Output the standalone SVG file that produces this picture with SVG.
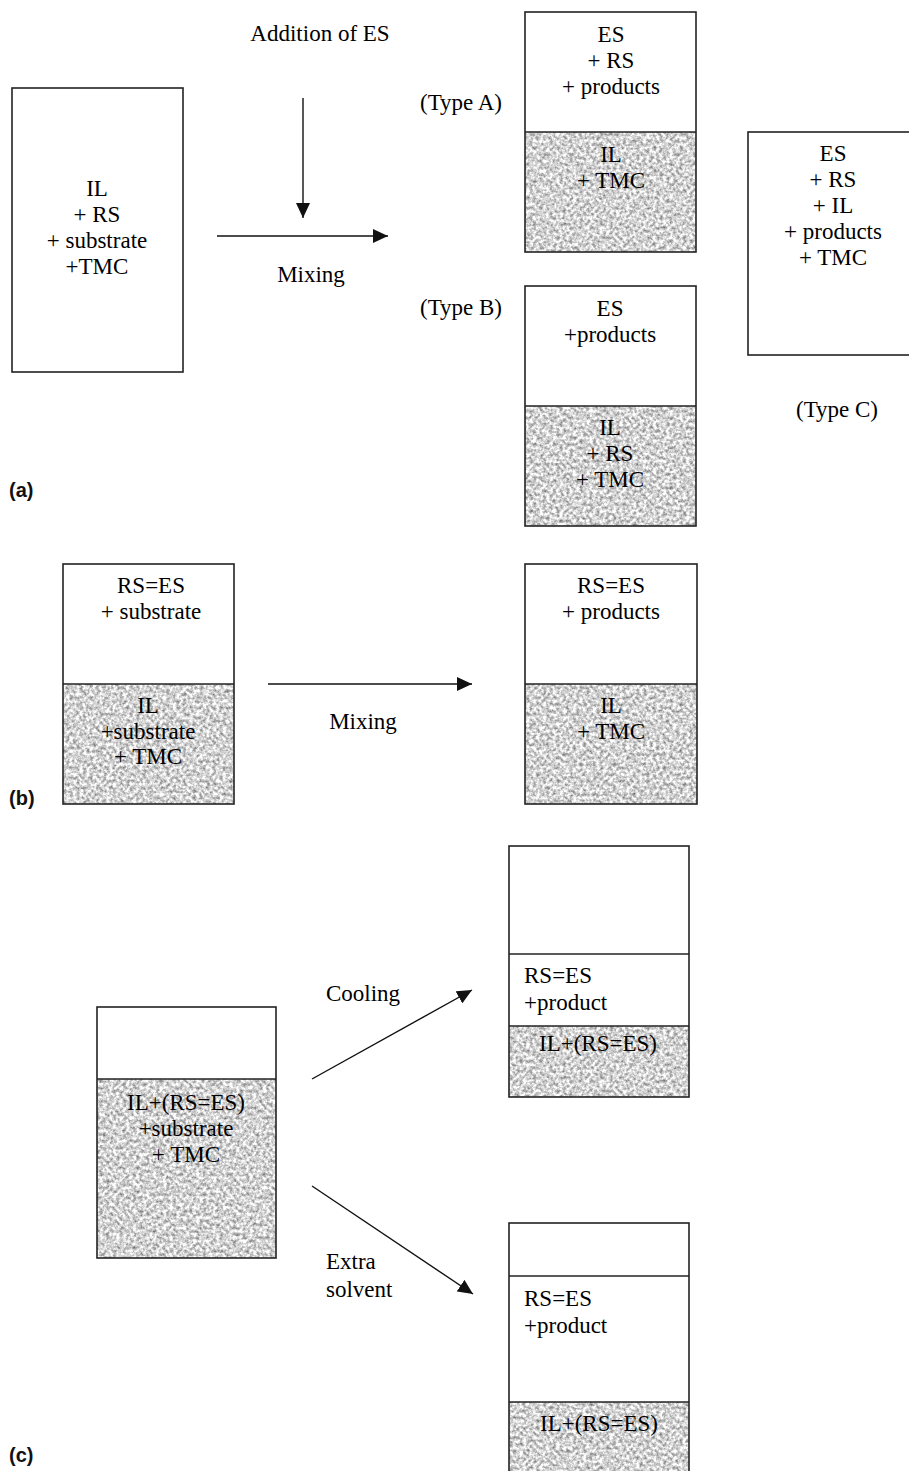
<svg xmlns="http://www.w3.org/2000/svg" width="909" height="1471" viewBox="0 0 909 1471">
<style>
  .box { fill: none; stroke: #222; stroke-width: 1.6; }
  .div { stroke: #222; stroke-width: 1.6; }
  .t { font-family: "Liberation Serif", "Times New Roman", serif; font-size: 23px; fill: #000; }
  .c { text-anchor: middle; }
  .lab { font-family: "Liberation Sans", Arial, sans-serif; font-size: 20px; font-weight: bold; fill: #111; }
  .arr { stroke: #111; stroke-width: 1.4; fill: none; marker-end: url(#ah); }
</style>
<defs>
  <marker id="ah" markerUnits="userSpaceOnUse" markerWidth="16" markerHeight="14" refX="15" refY="7" orient="auto">
    <path d="M0,0 L15,7 L0,14 Z" fill="#111"/>
  </marker>
  <filter id="grain" x="0" y="0" width="1" height="1" color-interpolation-filters="sRGB">
    <feTurbulence type="fractalNoise" baseFrequency="0.3" numOctaves="3" seed="7" result="n"/>
    <feColorMatrix in="n" type="matrix" values="0.95 0 0 0 0.35  0.95 0 0 0 0.35  0.95 0 0 0 0.35  0 0 0 0 1"/>
  </filter>
</defs>
<rect width="909" height="1471" fill="#fff"/>

<!-- (a) -->
<g id="a-start">
  <rect class="box" x="12" y="88" width="171" height="284"/>
  <text class="t c" x="97" y="196">IL</text>
  <text class="t c" x="97" y="222">+ RS</text>
  <text class="t c" x="97" y="248">+ substrate</text>
  <text class="t c" x="97" y="274">+TMC</text>
</g>
<g id="a-typeA">
  <rect x="525" y="132" width="171" height="120" fill="#ccc" filter="url(#grain)"/>
  <rect class="box" x="525" y="12" width="171" height="240"/>
  <line class="div" x1="525" y1="132" x2="696" y2="132"/>
  <text class="t c" x="611" y="42">ES</text>
  <text class="t c" x="611" y="68">+ RS</text>
  <text class="t c" x="611" y="94">+ products</text>
  <text class="t c" x="611" y="162">IL</text>
  <text class="t c" x="611" y="188">+ TMC</text>
  <text class="t c" x="461" y="110">(Type A)</text>
</g>
<g id="a-typeB">
  <rect x="525" y="406" width="171" height="120" fill="#ccc" filter="url(#grain)"/>
  <rect class="box" x="525" y="286" width="171" height="240"/>
  <line class="div" x1="525" y1="406" x2="696" y2="406"/>
  <text class="t c" x="610" y="316">ES</text>
  <text class="t c" x="610" y="342">+products</text>
  <text class="t c" x="610" y="435">IL</text>
  <text class="t c" x="610" y="461">+ RS</text>
  <text class="t c" x="610" y="487">+ TMC</text>
  <text class="t c" x="461" y="315">(Type B)</text>
</g>
<g id="a-typeC">
  <rect class="box" x="748" y="132" width="164" height="223"/>
  <text class="t c" x="833" y="161">ES</text>
  <text class="t c" x="833" y="187">+ RS</text>
  <text class="t c" x="833" y="213">+ IL</text>
  <text class="t c" x="833" y="239">+ products</text>
  <text class="t c" x="833" y="265">+ TMC</text>
  <text class="t c" x="837" y="417">(Type C)</text>
</g>
<text class="lab" x="9" y="497">(a)</text>

<!-- (b) -->
<g id="b-start">
  <rect x="63" y="684" width="171" height="120" fill="#ccc" filter="url(#grain)"/>
  <rect class="box" x="63" y="564" width="171" height="240"/>
  <line class="div" x1="63" y1="684" x2="234" y2="684"/>
  <text class="t c" x="151" y="593">RS=ES</text>
  <text class="t c" x="151" y="619">+ substrate</text>
  <text class="t c" x="148" y="713">IL</text>
  <text class="t c" x="148" y="739">+substrate</text>
  <text class="t c" x="148" y="764">+ TMC</text>
</g>
<g id="b-end">
  <rect x="525" y="684" width="172" height="120" fill="#ccc" filter="url(#grain)"/>
  <rect class="box" x="525" y="564" width="172" height="240"/>
  <line class="div" x1="525" y1="684" x2="697" y2="684"/>
  <text class="t c" x="611" y="593">RS=ES</text>
  <text class="t c" x="611" y="619">+ products</text>
  <text class="t c" x="611" y="713">IL</text>
  <text class="t c" x="611" y="739">+ TMC</text>
</g>
<text class="lab" x="9" y="805">(b)</text>

<!-- (c) -->
<g id="c-start">
  <rect x="97" y="1079" width="179" height="179" fill="#ccc" filter="url(#grain)"/>
  <rect class="box" x="97" y="1007" width="179" height="251"/>
  <line class="div" x1="97" y1="1079" x2="276" y2="1079"/>
  <text class="t c" x="186" y="1110">IL+(RS=ES)</text>
  <text class="t c" x="186" y="1136">+substrate</text>
  <text class="t c" x="186" y="1162">+ TMC</text>
</g>
<g id="c-cooling">
  <rect x="509" y="1026" width="180" height="71" fill="#ccc" filter="url(#grain)"/>
  <rect class="box" x="509" y="846" width="180" height="251"/>
  <line class="div" x1="509" y1="954" x2="689" y2="954"/>
  <line class="div" x1="509" y1="1026" x2="689" y2="1026"/>
  <text class="t" x="524" y="983">RS=ES</text>
  <text class="t" x="524" y="1010">+product</text>
  <text class="t c" x="598" y="1051">IL+(RS=ES)</text>
</g>
<g id="c-solvent">
  <rect x="509" y="1402" width="180" height="72" fill="#ccc" filter="url(#grain)"/>
  <rect class="box" x="509" y="1223" width="180" height="255"/>
  <line class="div" x1="509" y1="1276" x2="689" y2="1276"/>
  <line class="div" x1="509" y1="1402" x2="689" y2="1402"/>
  <text class="t" x="524" y="1306">RS=ES</text>
  <text class="t" x="524" y="1333">+product</text>
  <text class="t c" x="599" y="1431">IL+(RS=ES)</text>
</g>
<text class="lab" x="9" y="1462">(c)</text>

<g id="connectors">
  <line class="arr" x1="303" y1="98" x2="303" y2="218"/>
  <line class="arr" x1="217" y1="236" x2="388" y2="236"/>
  <line class="arr" x1="268" y1="684" x2="472" y2="684"/>
  <line class="arr" x1="312" y1="1079" x2="472" y2="990"/>
  <line class="arr" x1="312" y1="1186" x2="473" y2="1294"/>
  <text class="t c" x="320" y="41">Addition of ES</text>
  <text class="t c" x="311" y="282">Mixing</text>
  <text class="t c" x="363" y="729">Mixing</text>
  <text class="t" x="326" y="1001">Cooling</text>
  <text class="t" x="326" y="1269">Extra</text>
  <text class="t" x="326" y="1297">solvent</text>
</g>
</svg>
